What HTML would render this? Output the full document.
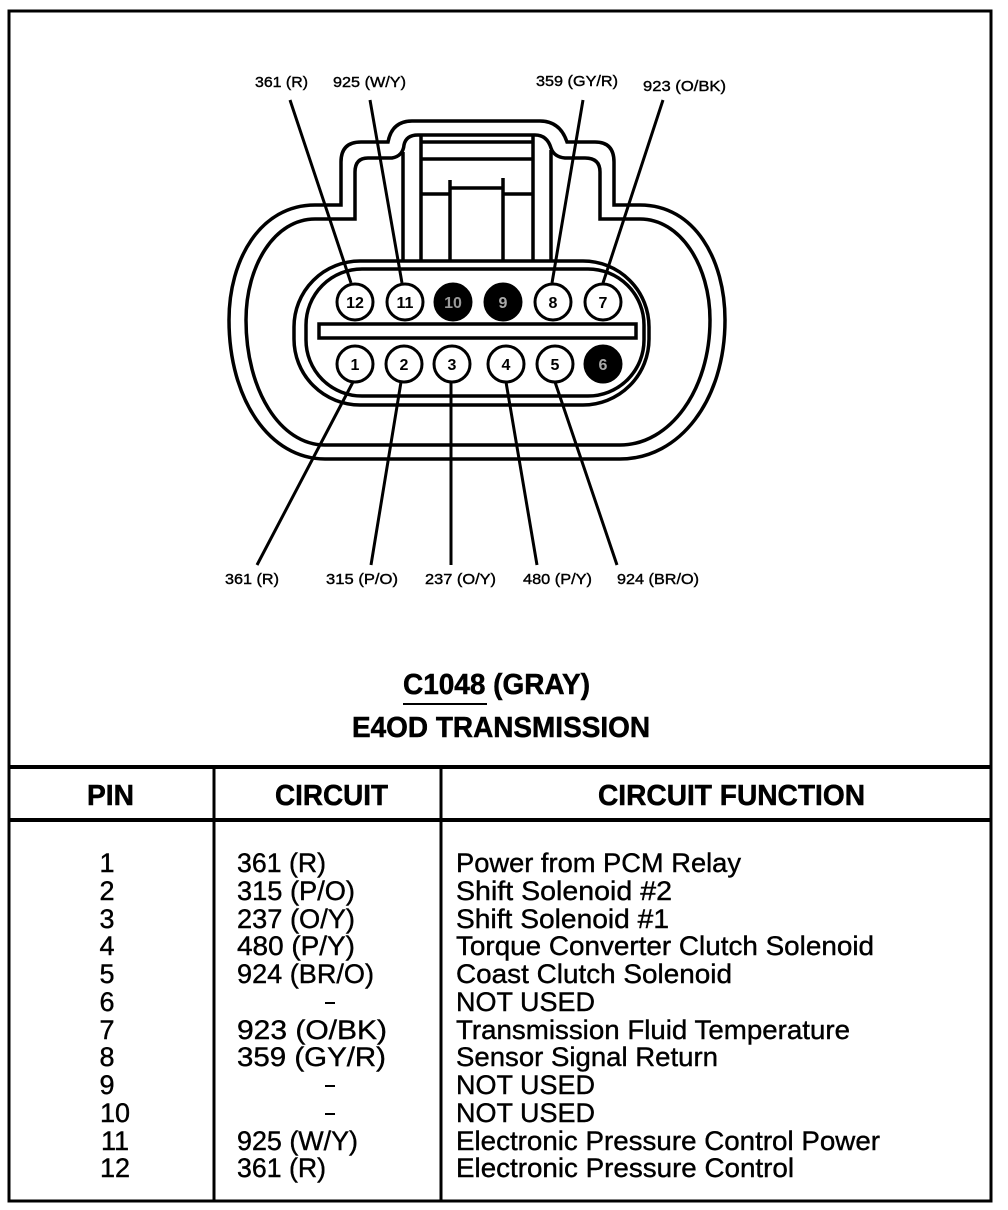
<!DOCTYPE html>
<html><head><meta charset="utf-8"><style>html,body{margin:0;padding:0;background:#fff}svg{display:block}
text{font-family:"Liberation Sans",sans-serif;fill:#000;stroke:#000;stroke-width:.5}
.d{font-size:15px;stroke-width:.4}.r{font-size:27px;stroke-width:.4}.h{font-size:29px;font-weight:bold}
.n{font-size:16px;font-weight:bold;stroke:none;text-anchor:middle}</style></head><body>
<svg width="1008" height="1210" viewBox="0 0 1008 1210" xmlns="http://www.w3.org/2000/svg">
<g fill="none" stroke="#000">
<path d="M9 11H991V1201H9Z" stroke-width="3"/>
<path d="M9 767H991M9 820H991" stroke-width="4"/>
<path d="M214 767V1201M441 767V1201" stroke-width="3"/>
<g stroke-width="3.5">
<path d="M341 205V162Q341 142 361 142H388Q392 121 412 121H540Q560 121 567 142H595Q614 142 614 162V205H640C695 205 725 260 725 320C725 400 680 459 620 459H325C270 459 229 400 229 320C229 260 260 205 315 205Z"/>
<path d="M355 219V172Q355 158 368 158H392Q403 156 404 145Q406 135 418 135H535Q547 135 551 148Q554 157 565 158H585Q600 158 600 172V219H640C680 219 710 265 710 320C710 390 670 445 620 445H325C280 445 246 390 246 320C246 265 275 219 315 219Z"/>
<rect x="294" y="261" width="355" height="144" rx="66"/>
<rect x="306" y="269" width="338" height="127" rx="56"/>
<path d="M403 152V262M551 150V262M421 136V262M533 136V262M450 180V262M503 178V262"/>
<path d="M421 142H533M421 159H533M421 194H450M450 188H503M503 194H533"/>
<rect x="319" y="324" width="317" height="14"/>
</g>
<g stroke-width="3">
<path d="M290 100L351 283M370 100L402 283M583 100L552 283M663 100L603 283M353 382L257 565M401 382L371 565M451 382V565M506 382L537 565M555 382L617 565"/>
<g fill="#fff"><circle cx="355" cy="302" r="18"/><circle cx="405" cy="302" r="18"/><circle cx="553" cy="302" r="18"/><circle cx="603" cy="302" r="18"/><circle cx="355" cy="364" r="18"/><circle cx="404" cy="364" r="18"/><circle cx="452" cy="364" r="18"/><circle cx="506" cy="364" r="18"/><circle cx="555" cy="364" r="18"/></g>
<g fill="#000"><circle cx="453" cy="302" r="18"/><circle cx="503" cy="302" r="18"/><circle cx="603" cy="364" r="18"/></g>
</g>
</g>
<rect x="403" y="703" width="84" height="2"/><rect x="325" y="1002" width="10" height="2"/><rect x="325" y="1085" width="10" height="2"/><rect x="325" y="1113" width="10" height="2"/>
<g>
<text class="n" x="355" y="308">12</text><text class="n" x="405" y="308">11</text><text class="n" x="453" y="308" style="fill:#999">10</text><text class="n" x="503" y="308" style="fill:#aaa">9</text><text class="n" x="553" y="308">8</text><text class="n" x="603" y="308">7</text>
<text class="n" x="355" y="370">1</text><text class="n" x="404" y="370">2</text><text class="n" x="452" y="370">3</text><text class="n" x="506" y="370">4</text><text class="n" x="555" y="370">5</text><text class="n" x="603" y="370" style="fill:#aaa">6</text>
<text class="d" x="255" y="87" textLength="53" lengthAdjust="spacingAndGlyphs">361 (R)</text>
<text class="d" x="333" y="87" textLength="73" lengthAdjust="spacingAndGlyphs">925 (W/Y)</text>
<text class="d" x="536" y="86" textLength="82" lengthAdjust="spacingAndGlyphs">359 (GY/R)</text>
<text class="d" x="643" y="91" textLength="83" lengthAdjust="spacingAndGlyphs">923 (O/BK)</text>
<text class="d" x="225" y="584" textLength="54" lengthAdjust="spacingAndGlyphs">361 (R)</text>
<text class="d" x="326" y="584" textLength="72" lengthAdjust="spacingAndGlyphs">315 (P/O)</text>
<text class="d" x="425" y="584" textLength="71" lengthAdjust="spacingAndGlyphs">237 (O/Y)</text>
<text class="d" x="523" y="584" textLength="69" lengthAdjust="spacingAndGlyphs">480 (P/Y)</text>
<text class="d" x="617" y="584" textLength="82" lengthAdjust="spacingAndGlyphs">924 (BR/O)</text>
<text class="h" x="403" y="694" textLength="187" lengthAdjust="spacingAndGlyphs">C1048 (GRAY)</text>
<text class="h" x="352" y="737" textLength="298" lengthAdjust="spacingAndGlyphs">E4OD TRANSMISSION</text>
<text class="h" x="87" y="805" textLength="47" lengthAdjust="spacingAndGlyphs">PIN</text>
<text class="h" x="275" y="805" textLength="113" lengthAdjust="spacingAndGlyphs">CIRCUIT</text>
<text class="h" x="598" y="805" textLength="267" lengthAdjust="spacingAndGlyphs">CIRCUIT FUNCTION</text>
</g>
<g class="rows">
<g text-anchor="middle">
<text class="r" x="107" y="872">1</text><text class="r" x="107" y="900">2</text><text class="r" x="107" y="928">3</text><text class="r" x="107" y="955">4</text><text class="r" x="107" y="983">5</text><text class="r" x="107" y="1011">6</text><text class="r" x="107" y="1039">7</text><text class="r" x="107" y="1066">8</text><text class="r" x="107" y="1094">9</text><text class="r" x="115" y="1122">10</text><text class="r" x="115" y="1150">11</text><text class="r" x="115" y="1177">12</text>
</g>
<text class="r" x="237" y="872" textLength="89" lengthAdjust="spacingAndGlyphs">361 (R)</text>
<text class="r" x="237" y="900" textLength="118" lengthAdjust="spacingAndGlyphs">315 (P/O)</text>
<text class="r" x="237" y="928" textLength="118" lengthAdjust="spacingAndGlyphs">237 (O/Y)</text>
<text class="r" x="237" y="955" textLength="118" lengthAdjust="spacingAndGlyphs">480 (P/Y)</text>
<text class="r" x="237" y="983" textLength="137" lengthAdjust="spacingAndGlyphs">924 (BR/O)</text>
<text class="r" x="237" y="1039" textLength="150" lengthAdjust="spacingAndGlyphs">923 (O/BK)</text>
<text class="r" x="237" y="1066" textLength="149" lengthAdjust="spacingAndGlyphs">359 (GY/R)</text>
<text class="r" x="237" y="1150" textLength="121" lengthAdjust="spacingAndGlyphs">925 (W/Y)</text>
<text class="r" x="237" y="1177" textLength="89" lengthAdjust="spacingAndGlyphs">361 (R)</text>
<text class="r" x="456" y="872" textLength="285" lengthAdjust="spacingAndGlyphs">Power from PCM Relay</text>
<text class="r" x="456" y="900" textLength="216" lengthAdjust="spacingAndGlyphs">Shift Solenoid #2</text>
<text class="r" x="456" y="928" textLength="213" lengthAdjust="spacingAndGlyphs">Shift Solenoid #1</text>
<text class="r" x="456" y="955" textLength="418" lengthAdjust="spacingAndGlyphs">Torque Converter Clutch Solenoid</text>
<text class="r" x="456" y="983" textLength="276" lengthAdjust="spacingAndGlyphs">Coast Clutch Solenoid</text>
<text class="r" x="456" y="1011" textLength="139" lengthAdjust="spacingAndGlyphs">NOT USED</text>
<text class="r" x="456" y="1039" textLength="394" lengthAdjust="spacingAndGlyphs">Transmission Fluid Temperature</text>
<text class="r" x="456" y="1066" textLength="262" lengthAdjust="spacingAndGlyphs">Sensor Signal Return</text>
<text class="r" x="456" y="1094" textLength="139" lengthAdjust="spacingAndGlyphs">NOT USED</text>
<text class="r" x="456" y="1122" textLength="139" lengthAdjust="spacingAndGlyphs">NOT USED</text>
<text class="r" x="456" y="1150" textLength="424" lengthAdjust="spacingAndGlyphs">Electronic Pressure Control Power</text>
<text class="r" x="456" y="1177" textLength="338" lengthAdjust="spacingAndGlyphs">Electronic Pressure Control</text>
</g>
</svg>
</body></html>
